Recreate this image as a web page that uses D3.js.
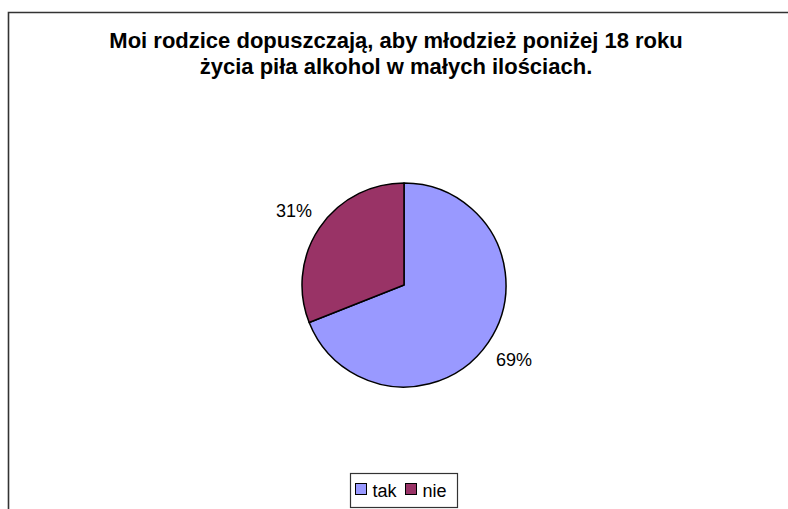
<!DOCTYPE html>
<html>
<head>
<meta charset="utf-8">
<script src="https://cdn.jsdelivr.net/npm/d3@7"></script>
<style>
  html, body { margin: 0; padding: 0; background: #fff; }
  svg { display: block; font-family: "Liberation Sans", Arial, sans-serif; }
</style>
</head>
<body>
<svg id="chart" width="788" height="509"></svg>
<script>
// values
const categories = ["tak", "nie"];
const values = [69, 31];
const colors = ["#9999FF", "#993366"];
const titleLines = [
    "Moi rodzice dopuszczają, aby młodzież poniżej 18 roku",
    "życia piła alkohol w małych ilościach."
];

const width = 788, height = 509;
const svg = d3.select("#chart");

// outer chart frame (cropped at right/bottom)
svg.append("path")
    .attr("d", "M8.5," + (height + 2) + "V12.5H" + (width + 2))
    .style("fill", "none")
    .style("stroke", "#333")
    .style("stroke-width", 1.6);

// title
const title = svg.append("text")
    .attr("text-anchor", "middle")
    .style("font-weight", "bold")
    .style("font-size", "22px")
    .style("fill", "#000");
title.selectAll("tspan")
    .data(titleLines)
    .enter().append("tspan")
    .attr("x", 396)
    .attr("y", (d, i) => 48 + i * 26)
    .text(d => d);

// pie
const cx = 404, cy = 285, radius = 102;
const data = categories.map((c, i) => ({cat: c, value: values[i], color: colors[i]}));

const pie = d3.pie()
    .value(d => d.value)
    .sort(null);

const arc = d3.arc()
    .innerRadius(0)
    .outerRadius(radius);

const labelArc = d3.arc()
    .innerRadius(radius + 31)
    .outerRadius(radius + 31);

const g = svg.append("g")
    .attr("transform", "translate(" + cx + "," + cy + ")");

const arcs = pie(data);

g.selectAll("path.slice")
    .data(arcs)
    .enter().append("path")
    .attr("class", "slice")
    .attr("d", arc)
    .style("fill", d => d.data.color)
    .style("stroke", "#000")
    .style("stroke-width", 1.5)
    .style("stroke-linejoin", "round");

const total = d3.sum(values);
g.selectAll("text.lbl")
    .data(arcs)
    .enter().append("text")
    .attr("class", "lbl")
    .attr("transform", d => {
        const p = labelArc.centroid(d);
        return "translate(" + p[0] + "," + p[1] + ")";
    })
    .attr("text-anchor", "middle")
    .attr("dy", "0.35em")
    .style("font-size", "18px")
    .style("fill", "#000")
    .text(d => Math.round(d.data.value / total * 100) + "%");

// legend
const legend = svg.append("g")
    .attr("transform", "translate(350,473)");

legend.append("rect")
    .attr("x", 0.5)
    .attr("y", 0.5)
    .attr("width", 107)
    .attr("height", 34)
    .style("fill", "#fff")
    .style("stroke", "#333")
    .style("stroke-width", 1.2);

const legendX = d3.scaleOrdinal()
    .domain(categories)
    .range([5.5, 55.5]);

const item = legend.selectAll("g.item")
    .data(data)
    .enter().append("g")
    .attr("class", "item")
    .attr("transform", d => "translate(" + legendX(d.cat) + ",0)");

item.append("rect")
    .attr("x", 0)
    .attr("y", 10.5)
    .attr("width", 11)
    .attr("height", 11)
    .style("fill", d => d.color)
    .style("stroke", "#000")
    .style("stroke-width", 1);

item.append("text")
    .attr("x", 17)
    .attr("y", 24)
    .style("font-size", "18px")
    .style("fill", "#000")
    .text(d => d.cat);
</script>
</body>
</html>
